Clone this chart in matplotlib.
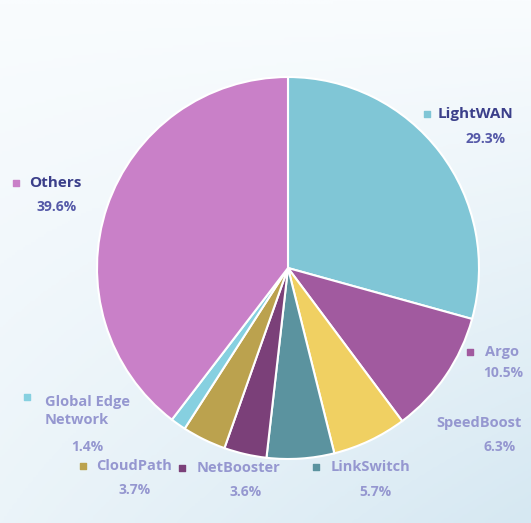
import matplotlib
matplotlib.use("Agg")
import matplotlib.pyplot as plt
import numpy as np

# Data (clockwise from 12 o'clock)
labels = ["LightWAN", "Argo", "SpeedBoost", "LinkSwitch",
          "NetBooster", "CloudPath", "Global Edge\nNetwork", "Others"]
values = [29.3, 10.5, 6.3, 5.7, 3.6, 3.7, 1.3, 39.6]
pct_text = ["29.3%", "10.5%", "6.3%", "5.7%", "3.6%", "3.7%", "1.4%", "39.6%"]
colors = ["#80c6d6", "#a15a9f", "#f0d062", "#5b939f", "#7b4079",
          "#bba24e", "#86d0e0", "#c980c8"]

W, H = 531, 523
fig = plt.figure(figsize=(W / 100, H / 100), dpi=100)
fig.patch.set_facecolor("#eef5f9")
ax = fig.add_axes([0, 0, 1, 1])

cx, cy, r = 288, H - 268, 191
wedges, _ = ax.pie(values, colors=colors, startangle=90, counterclock=False,
                   center=(cx, cy), radius=r,
                   wedgeprops=dict(edgecolor="white", linewidth=1.5))
for w in wedges:
    w.set_zorder(2)

# soft background gradient
gx = np.linspace(0, 1, 200)
gy = np.linspace(0, 1, 200)
GX, GY = np.meshgrid(gx, gy)
bg = 0.6 * GX * (1 - GY) + 0.4 * (1 - GY)
ax.imshow(bg, extent=[0, W, 0, H], cmap=matplotlib.colors.LinearSegmentedColormap.from_list(
    "bg", ["#f9fcfe", "#d6e8f2"]), zorder=0, aspect="auto", origin="lower")

ax.set_xlim(0, W)
ax.set_ylim(0, H)
ax.set_aspect("equal")
ax.axis("off")

name_col = "#3b3f8a"
pct_col = "#5559a8"
blur_col = "#9597d0"

def Y(y):
    return H - y

def label(mx, my, mcol, name, nx, ny, pct, px, py, strong=True):
    if mcol is not None:
        ax.scatter([mx], [Y(my)], marker="s", s=16, color=mcol, zorder=5)
    c1 = name_col if strong else blur_col
    c2 = pct_col if strong else blur_col
    ax.text(nx, Y(ny), name, ha="left", va="center",
            fontsize=11 if strong else 10.5,
            fontweight="bold", color=c1, zorder=5, linespacing=1.4,
            family="Open Sans")
    ax.text(px, Y(py), pct, ha="center", va="center", fontsize=10,
            fontweight="bold", color=c2, zorder=5, family="Open Sans")

label(427, 114, colors[0], labels[0], 438, 114, pct_text[0], 486, 139)
label(16, 183, colors[7], labels[7], 29, 183, pct_text[7], 57, 207)
label(470, 352, colors[1], labels[1], 485, 352, pct_text[1], 503, 373, strong=False)
label(None, 0, None, labels[2], 436, 423, pct_text[2], 500, 447, strong=False)
label(27, 397, colors[6], labels[6], 45, 411, pct_text[6], 87, 447, strong=False)
label(83, 466, colors[5], labels[5], 96, 466, pct_text[5], 135, 490, strong=False)
label(182, 468, colors[4], labels[4], 197, 468, pct_text[4], 246, 492, strong=False)
label(316, 467, colors[3], labels[3], 331, 467, pct_text[3], 375, 492, strong=False)

fig.savefig("out.png", dpi=100, facecolor=fig.get_facecolor())
